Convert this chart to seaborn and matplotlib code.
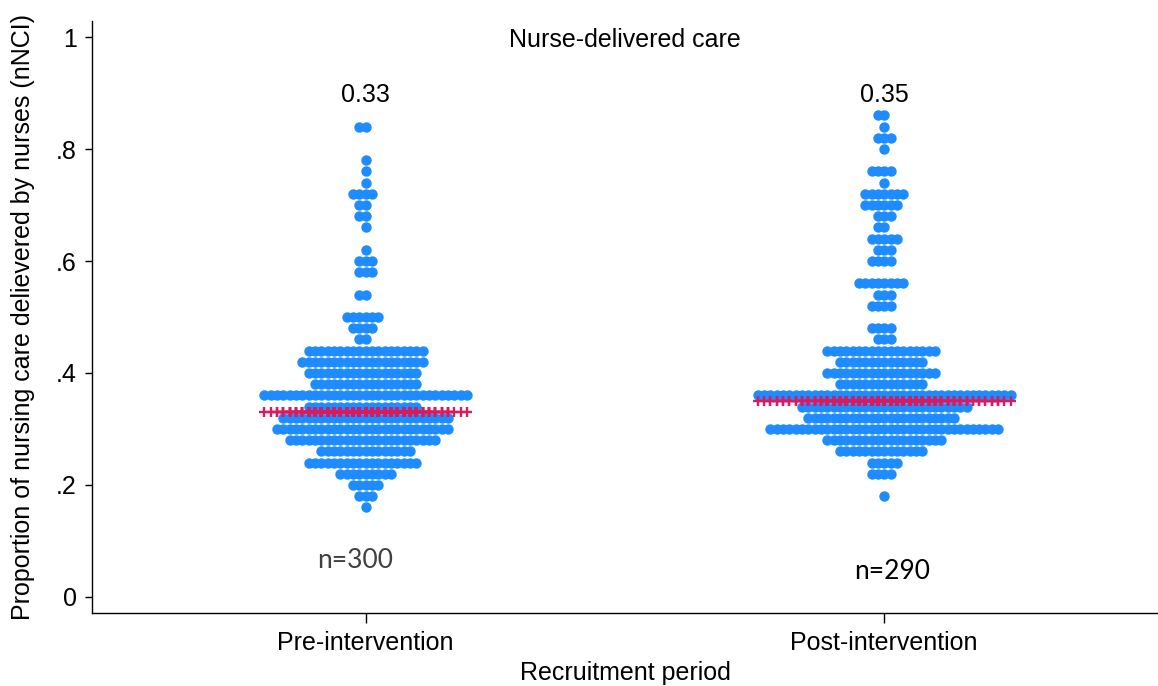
import numpy as np
import pandas as pd
import matplotlib
matplotlib.use("Agg")
import matplotlib.pyplot as plt
import seaborn as sns
from matplotlib.markers import MarkerStyle
from matplotlib.transforms import Affine2D, blended_transform_factory

# Recruitment periods (categories on the x axis)
periods = ["Pre-intervention", "Post-intervention"]

# Binned nNCI values and how many patients fall in each bin
levels_pre = [0.16, 0.18, 0.20, 0.22, 0.24, 0.26, 0.28, 0.30, 0.32, 0.34,
              0.36, 0.38, 0.40, 0.42, 0.44, 0.46, 0.48, 0.50, 0.54, 0.58,
              0.60, 0.62, 0.66, 0.68, 0.70, 0.72, 0.74, 0.76, 0.78, 0.84]
counts_pre = [1, 3, 5, 9, 18, 15, 24, 28, 27, 18,
              33, 17, 18, 20, 19, 2, 4, 6, 2, 3,
              3, 1, 1, 2, 2, 4, 1, 1, 1, 2]

levels_post = [0.18, 0.22, 0.24, 0.26, 0.28, 0.30, 0.32, 0.34, 0.36, 0.38,
               0.40, 0.42, 0.44, 0.46, 0.48, 0.52, 0.54, 0.56, 0.60, 0.62,
               0.64, 0.66, 0.68, 0.70, 0.72, 0.74, 0.76, 0.80, 0.82, 0.84,
               0.86]
counts_post = [1, 4, 5, 14, 19, 37, 24, 27, 41, 14,
               18, 14, 18, 3, 4, 4, 3, 8, 4, 3,
               5, 2, 3, 6, 7, 1, 4, 1, 3, 1,
               2]

# Group means shown above each swarm and as the "+" reference line
mean_values = [0.33, 0.35]
mean_labels = ["0.33", "0.35"]

# Sample-size annotations
n_labels = ["n=300", "n=290"]
n_label_colors = ["#404040", "#000000"]
n_label_x = [-0.021, 0.016]
n_label_y = [0.066, 0.045]

yticks = [0, 0.2, 0.4, 0.6, 0.8, 1.0]
ytick_labels = ["0", ".2", ".4", ".6", ".8", "1"]

dot_color = "#1E8CFF"
mean_color = "#D81B5E"

df = pd.concat([
    pd.DataFrame({"period": periods[0], "value": np.repeat(levels_pre, counts_pre)}),
    pd.DataFrame({"period": periods[1], "value": np.repeat(levels_post, counts_post)}),
], ignore_index=True)

sns.set_style("ticks")
plt.rcParams["font.family"] = ["Liberation Sans", "DejaVu Sans"]
for key in ["text.color", "axes.labelcolor", "xtick.color", "ytick.color",
            "axes.edgecolor"]:
    plt.rcParams[key] = "black"

fig = plt.figure(figsize=(11.58, 6.86), dpi=100)
ax = fig.add_axes([0.0794, 0.1064, 0.9206, 0.8630])

# Dots are packed by the swarm at a narrow pitch and drawn larger,
# so neighbouring dots in a row overlap like a classic dot plot.
big_dot = MarkerStyle("o", transform=Affine2D().scale(1.73))
sns.swarmplot(data=df, x="period", y="value", order=periods,
              color=dot_color, size=4.34, marker=big_dot, linewidth=0, ax=ax)

ax.set_xlim(-0.528, 1.528)
ax.set_ylim(-0.0286, 1.0286)
fig.canvas.draw()

# One "+" per patient at the group mean, placed at the patient's dot column
for coll, m in zip(ax.collections[:2], mean_values):
    xs = np.asarray(coll.get_offsets())[:, 0]
    ax.scatter(xs, np.full(len(xs), m), marker="+", s=42, linewidths=1.7,
               color=mean_color, zorder=4)

ax.set_xlim(-0.528, 1.528)
ax.set_ylim(-0.0286, 1.0286)

for i, (m, lab) in enumerate(zip(mean_values, mean_labels)):
    ax.text(i, 0.897, lab, ha="center", va="center", fontsize=18)

for i, lab in enumerate(n_labels):
    ax.text(i + n_label_x[i], n_label_y[i], lab, ha="center", va="center",
            fontsize=19, color=n_label_colors[i], family=["Lato", "DejaVu Sans"])

trans = blended_transform_factory(ax.transAxes, ax.transData)
ax.text(0.5, 0.995, "Nurse-delivered care", transform=trans,
        ha="center", va="center", fontsize=18)

ax.set_yticks(yticks, ytick_labels)
ax.set_xlabel("Recruitment period", fontsize=18, labelpad=4)
ax.set_ylabel("Proportion of nursing care delievered by nurses (nNCI)",
              fontsize=18, labelpad=15)

ax.tick_params(axis="both", direction="out", length=5, width=1,
               labelsize=18, color="black")
ax.tick_params(axis="x", length=7, pad=6)
ax.tick_params(axis="y", pad=6)

for side in ["top", "right"]:
    ax.spines[side].set_visible(False)
for side in ["left", "bottom"]:
    ax.spines[side].set_linewidth(1.0)
    ax.spines[side].set_color("black")

fig.savefig("out.png", dpi=100)
